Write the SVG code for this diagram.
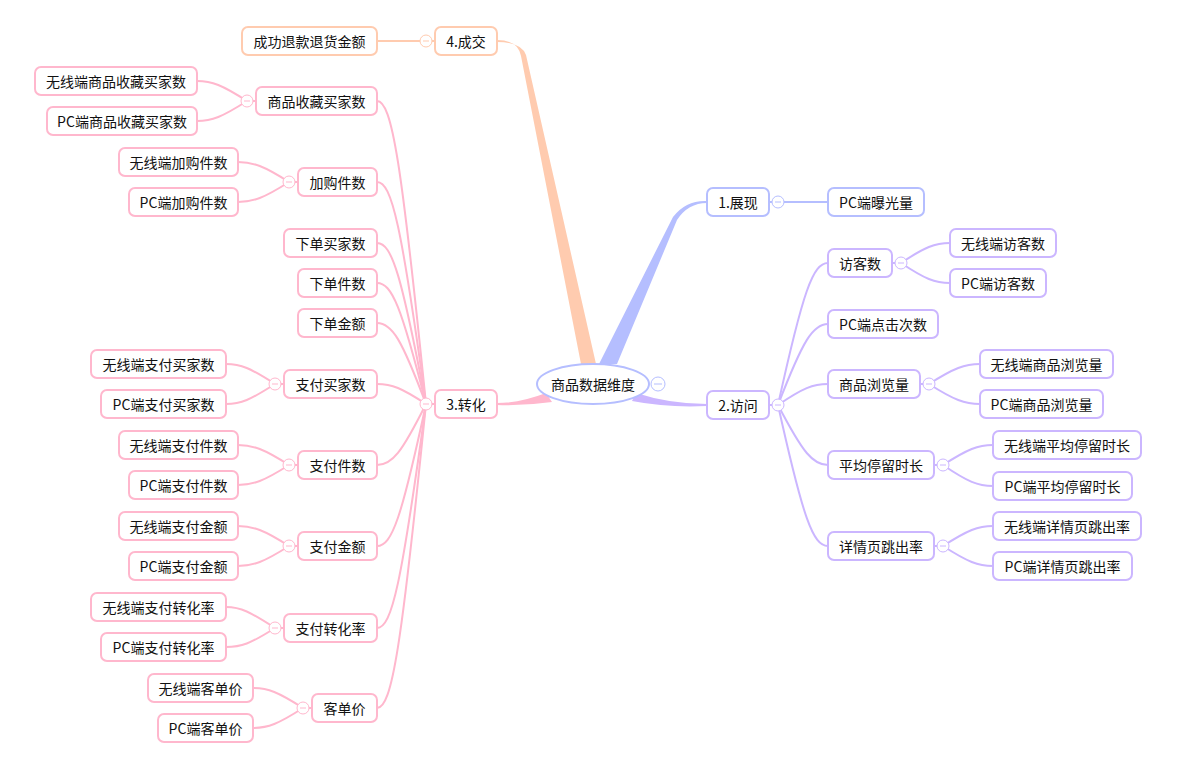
<svg xmlns="http://www.w3.org/2000/svg" width="1199" height="769" viewBox="0 0 1199 769">
<style>
text{font-family:"Noto Sans CJK SC","Microsoft YaHei",sans-serif;font-size:14px;fill:#111;text-anchor:middle;dominant-baseline:central}
rect{fill:#fff;stroke-width:2}
.pk rect,.pk .c{stroke:#FFB7CD}
.lv rect,.lv .c{stroke:#CBB6FF}
.bl rect{stroke:#B5BEFF}
.pc rect,.pc .c{stroke:#FFCBAF}
.c{fill:#fff;stroke-width:1}
.m{stroke-width:1}
#connectors path,#connectors line{fill:none;stroke-width:2}
.cpk{stroke:#FFB7CD}
.clv{stroke:#CBB6FF}
.cbl{stroke:#B5BEFF}
.cpc{stroke:#FFCBAF}
</style>
<rect x="0" y="0" width="1199" height="769" fill="#fff" stroke="none"/>
<g id="connectors">
<path d="M497 40 Q518 40 521 56 L581 364 L596 364 L526 55 Q521 42 497 42 Z" fill="#FFCBAF" style="stroke:none;fill:#FFCBAF"/>
<path d="M707 201 Q686 200 673 217 L599 364 L617 364 L677 220 Q688 203 707 203 Z" style="stroke:none;fill:#B5BEFF"/>
<path d="M497 403 Q520 403 546 393 L552 402 Q524 406 497 405 Z" style="stroke:none;fill:#FFB7CD"/>
<path d="M636 393 Q670 404 707 404 L707 406 Q668 408 632 401 Z" style="stroke:none;fill:#CBB6FF"/>
<g class="cpc"><line x1="377" y1="41" x2="435" y2="41"/></g>
<g class="cbl"><line x1="769" y1="202" x2="828" y2="202"/></g>
<g class="cpk">
<line x1="426" y1="404" x2="435" y2="404"/>
<path d="M426 404 C401.5 162 392 101 377 101"/>
<path d="M426 404 C401.5 226 392 182 377 182"/>
<path d="M426 404 C401.5 275 392 243 377 243"/>
<path d="M426 404 C401.5 307 392 283 377 283"/>
<path d="M426 404 C401.5 339 392 323 377 323"/>
<path d="M426 404 C401.5 388 392 384 377 384"/>
<path d="M426 404 C401.5 453 392 465 377 465"/>
<path d="M426 404 C401.5 518 392 546 377 546"/>
<path d="M426 404 C401.5 583 392 628 377 628"/>
<path d="M426 404 C401.5 647 392 708 377 708"/>
<line x1="247" y1="101" x2="256" y2="101"/>
<path d="M247 101 C222 85 212 81 197 81"/>
<path d="M247 101 C222 117 212 121 197 121"/>
<line x1="289" y1="182" x2="298" y2="182"/>
<path d="M289 182 C264 166 253 162 238 162"/>
<path d="M289 182 C264 198 253 202 238 202"/>
<line x1="275" y1="384" x2="284" y2="384"/>
<path d="M275 384 C250 368 241 364 226 364"/>
<path d="M275 384 C250 400 241 404 226 404"/>
<line x1="289" y1="465" x2="298" y2="465"/>
<path d="M289 465 C264 449 253 445 238 445"/>
<path d="M289 465 C264 481 253 485 238 485"/>
<line x1="289" y1="546" x2="298" y2="546"/>
<path d="M289 546 C264 530 253 526 238 526"/>
<path d="M289 546 C264 562 253 566 238 566"/>
<line x1="275" y1="628" x2="284" y2="628"/>
<path d="M275 628 C250 612 241 607 226 607"/>
<path d="M275 628 C250 644 241 647 226 647"/>
<line x1="303" y1="708" x2="312" y2="708"/>
<path d="M303 708 C278 692 268 688 253 688"/>
<path d="M303 708 C278 724 268 728 253 728"/>
</g>
<g class="clv">
<line x1="769" y1="405" x2="778" y2="405"/>
<path d="M778 405 C803 291 813 263 828 263"/>
<path d="M778 405 C803 340 813 324 828 324"/>
<path d="M778 405 C803 388 813 384 828 384"/>
<path d="M778 405 C803 453 813 465 828 465"/>
<path d="M778 405 C803 518 813 546 828 546"/>
<line x1="892" y1="263" x2="901" y2="263"/>
<path d="M901 263 C925 247 935 243 950 243"/>
<path d="M901 263 C925 279 935 283 950 283"/>
<line x1="920" y1="384" x2="929" y2="384"/>
<path d="M929 384 C954 368 965 364 980 364"/>
<path d="M929 384 C954 400 965 404 980 404"/>
<line x1="934" y1="465" x2="943" y2="465"/>
<path d="M943 465 C968 449 978 445 993 445"/>
<path d="M943 465 C968 482 978 486 993 486"/>
<line x1="934" y1="546" x2="943" y2="546"/>
<path d="M943 546 C968 530 978 526 993 526"/>
<path d="M943 546 C968 562 978 566 993 566"/>
</g>
</g>
<g id="root">
<ellipse cx="593" cy="384" rx="56" ry="20" fill="#fff" stroke="#B5BEFF" stroke-width="2"/>
<text x="593" y="384">商品数据维度</text>
<circle cx="658" cy="384" r="7" fill="#fff" stroke="#B5BEFF" stroke-width="1"/>
<line x1="654" y1="384" x2="662" y2="384" stroke="#B5BEFF"/>
</g>
<g id="b4" class="pc">
<rect x="435" y="27" width="62" height="28" rx="6"/><text x="466" y="41">4.成交</text>
<circle class="c" cx="426" cy="41" r="6"/><line class="m" x1="423" y1="41" x2="429" y2="41" stroke="#FFCBAF"/>
</g>
<g id="n-refund" class="pc"><rect x="242" y="27" width="135" height="28" rx="6"/><text x="309.5" y="41">成功退款退货金额</text></g>
<g id="b1" class="bl">
<rect x="707" y="188" width="62" height="28" rx="6"/><text x="738" y="202">1.展现</text>
<circle cx="778" cy="202" r="6" fill="#fff" stroke="#B5BEFF"/><line x1="775" y1="202" x2="781" y2="202" stroke="#B5BEFF"/>
</g>
<g id="n-pcexp" class="bl"><rect x="828" y="188" width="96" height="28" rx="6"/><text x="876" y="202">PC端曝光量</text></g>
<g id="b2" class="lv">
<rect x="707" y="391" width="62" height="28" rx="6"/><text x="738" y="405">2.访问</text>
<circle class="c" cx="778" cy="405" r="6"/><line x1="775" y1="405" x2="781" y2="405" stroke="#CBB6FF"/>
</g>
<g id="n-visitor" class="lv">
<rect x="828" y="249" width="64" height="28" rx="6"/><text x="860" y="263">访客数</text>
<circle class="c" cx="901" cy="263" r="6"/><line x1="898" y1="263" x2="904" y2="263" stroke="#CBB6FF"/>
</g>
<g id="n-visitor-m" class="lv"><rect x="950" y="229" width="106" height="28" rx="6"/><text x="1003" y="243">无线端访客数</text></g>
<g id="n-visitor-pc" class="lv"><rect x="950" y="269" width="96" height="28" rx="6"/><text x="998" y="283">PC端访客数</text></g>
<g id="n-click" class="lv"><rect x="828" y="310" width="110" height="28" rx="6"/><text x="883" y="324">PC端点击次数</text></g>
<g id="n-pv" class="lv">
<rect x="828" y="370" width="92" height="28" rx="6"/><text x="874" y="384">商品浏览量</text>
<circle class="c" cx="929" cy="384" r="6"/><line x1="926" y1="384" x2="932" y2="384" stroke="#CBB6FF"/>
</g>
<g id="n-pv-m" class="lv"><rect x="980" y="350" width="133" height="28" rx="6"/><text x="1046.5" y="364">无线端商品浏览量</text></g>
<g id="n-pv-pc" class="lv"><rect x="980" y="390" width="123" height="28" rx="6"/><text x="1041.5" y="404">PC端商品浏览量</text></g>
<g id="n-stay" class="lv">
<rect x="828" y="451" width="106" height="28" rx="6"/><text x="881" y="465">平均停留时长</text>
<circle class="c" cx="943" cy="465" r="6"/><line x1="940" y1="465" x2="946" y2="465" stroke="#CBB6FF"/>
</g>
<g id="n-stay-m" class="lv"><rect x="993" y="431" width="148" height="28" rx="6"/><text x="1067" y="445">无线端平均停留时长</text></g>
<g id="n-stay-pc" class="lv"><rect x="993" y="472" width="139" height="28" rx="6"/><text x="1062.5" y="486">PC端平均停留时长</text></g>
<g id="n-bounce" class="lv">
<rect x="828" y="532" width="106" height="28" rx="6"/><text x="881" y="546">详情页跳出率</text>
<circle class="c" cx="943" cy="546" r="6"/><line x1="940" y1="546" x2="946" y2="546" stroke="#CBB6FF"/>
</g>
<g id="n-bounce-m" class="lv"><rect x="993" y="512" width="148" height="28" rx="6"/><text x="1067" y="526">无线端详情页跳出率</text></g>
<g id="n-bounce-pc" class="lv"><rect x="993" y="552" width="139" height="28" rx="6"/><text x="1062.5" y="566">PC端详情页跳出率</text></g>
<g id="b3" class="pk">
<rect x="435" y="390" width="62" height="28" rx="6"/><text x="466" y="404">3.转化</text>
<circle class="c" cx="426" cy="404" r="6"/><line x1="423" y1="404" x2="429" y2="404" stroke="#FFB7CD"/>
</g>
<g id="n-fav" class="pk">
<rect x="256" y="87" width="121" height="28" rx="6"/><text x="316.5" y="101">商品收藏买家数</text>
<circle class="c" cx="247" cy="101" r="6"/><line x1="244" y1="101" x2="250" y2="101" stroke="#FFB7CD"/>
</g>
<g id="n-fav-m" class="pk"><rect x="35" y="67" width="162" height="28" rx="6"/><text x="116" y="81">无线端商品收藏买家数</text></g>
<g id="n-fav-pc" class="pk"><rect x="47" y="107" width="150" height="28" rx="6"/><text x="122" y="121">PC端商品收藏买家数</text></g>
<g id="n-cart" class="pk">
<rect x="298" y="168" width="79" height="28" rx="6"/><text x="337.5" y="182">加购件数</text>
<circle class="c" cx="289" cy="182" r="6"/><line x1="286" y1="182" x2="292" y2="182" stroke="#FFB7CD"/>
</g>
<g id="n-cart-m" class="pk"><rect x="119" y="148" width="119" height="28" rx="6"/><text x="178.5" y="162">无线端加购件数</text></g>
<g id="n-cart-pc" class="pk"><rect x="129" y="188" width="109" height="28" rx="6"/><text x="183.5" y="202">PC端加购件数</text></g>
<g id="n-ordbuyer" class="pk"><rect x="284" y="229" width="93" height="28" rx="6"/><text x="330.5" y="243">下单买家数</text></g>
<g id="n-ordqty" class="pk"><rect x="298" y="269" width="79" height="28" rx="6"/><text x="337.5" y="283">下单件数</text></g>
<g id="n-ordamt" class="pk"><rect x="298" y="309" width="79" height="28" rx="6"/><text x="337.5" y="323">下单金额</text></g>
<g id="n-paybuyer" class="pk">
<rect x="284" y="370" width="93" height="28" rx="6"/><text x="330.5" y="384">支付买家数</text>
<circle class="c" cx="275" cy="384" r="6"/><line x1="272" y1="384" x2="278" y2="384" stroke="#FFB7CD"/>
</g>
<g id="n-paybuyer-m" class="pk"><rect x="91" y="350" width="135" height="28" rx="6"/><text x="158.5" y="364">无线端支付买家数</text></g>
<g id="n-paybuyer-pc" class="pk"><rect x="101" y="390" width="125" height="28" rx="6"/><text x="163.5" y="404">PC端支付买家数</text></g>
<g id="n-payqty" class="pk">
<rect x="298" y="451" width="79" height="28" rx="6"/><text x="337.5" y="465">支付件数</text>
<circle class="c" cx="289" cy="465" r="6"/><line x1="286" y1="465" x2="292" y2="465" stroke="#FFB7CD"/>
</g>
<g id="n-payqty-m" class="pk"><rect x="119" y="431" width="119" height="28" rx="6"/><text x="178.5" y="445">无线端支付件数</text></g>
<g id="n-payqty-pc" class="pk"><rect x="129" y="471" width="109" height="28" rx="6"/><text x="183.5" y="485">PC端支付件数</text></g>
<g id="n-payamt" class="pk">
<rect x="298" y="532" width="79" height="28" rx="6"/><text x="337.5" y="546">支付金额</text>
<circle class="c" cx="289" cy="546" r="6"/><line x1="286" y1="546" x2="292" y2="546" stroke="#FFB7CD"/>
</g>
<g id="n-payamt-m" class="pk"><rect x="119" y="512" width="119" height="28" rx="6"/><text x="178.5" y="526">无线端支付金额</text></g>
<g id="n-payamt-pc" class="pk"><rect x="129" y="552" width="109" height="28" rx="6"/><text x="183.5" y="566">PC端支付金额</text></g>
<g id="n-conv" class="pk">
<rect x="284" y="614" width="93" height="28" rx="6"/><text x="330.5" y="628">支付转化率</text>
<circle class="c" cx="275" cy="628" r="6"/><line x1="272" y1="628" x2="278" y2="628" stroke="#FFB7CD"/>
</g>
<g id="n-conv-m" class="pk"><rect x="91" y="593" width="135" height="28" rx="6"/><text x="158.5" y="607">无线端支付转化率</text></g>
<g id="n-conv-pc" class="pk"><rect x="101" y="633" width="125" height="28" rx="6"/><text x="163.5" y="647">PC端支付转化率</text></g>
<g id="n-aov" class="pk">
<rect x="312" y="694" width="65" height="28" rx="6"/><text x="344.5" y="708">客单价</text>
<circle class="c" cx="303" cy="708" r="6"/><line x1="300" y1="708" x2="306" y2="708" stroke="#FFB7CD"/>
</g>
<g id="n-aov-m" class="pk"><rect x="148" y="674" width="105" height="28" rx="6"/><text x="200.5" y="688">无线端客单价</text></g>
<g id="n-aov-pc" class="pk"><rect x="158" y="714" width="95" height="28" rx="6"/><text x="205.5" y="728">PC端客单价</text></g>
</svg>
